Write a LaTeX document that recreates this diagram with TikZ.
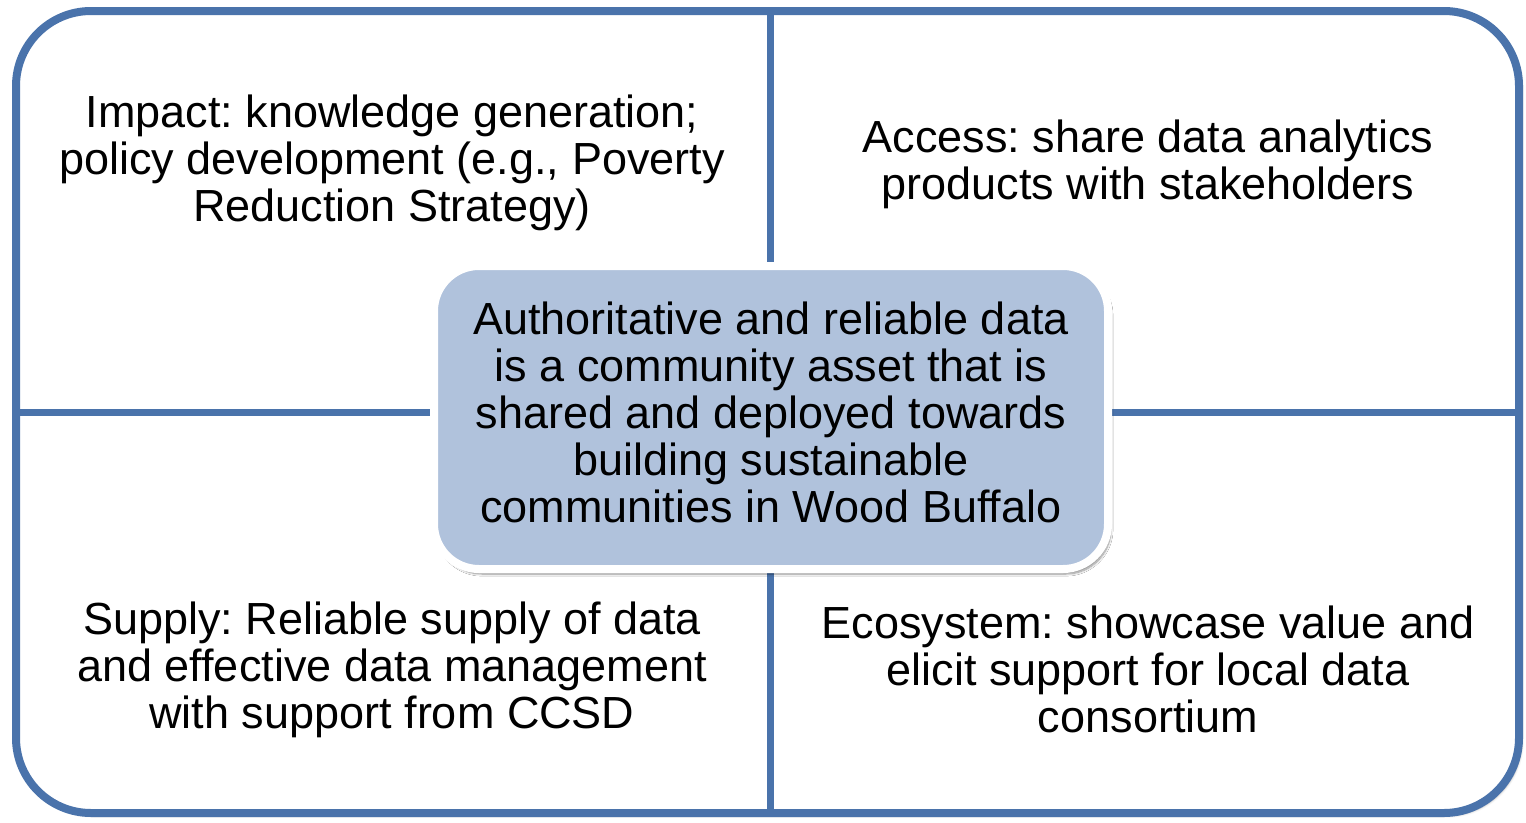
\documentclass[tikz,border=0pt]{standalone}
\usepackage{fontspec}
\setmainfont{Liberation Sans}
\usetikzlibrary{shadows.blur}
\definecolor{frameblue}{HTML}{4A73AB}
\definecolor{centerfill}{HTML}{B0C2DC}
\frenchspacing
\begin{document}
\begin{tikzpicture}[x=1pt,y=-1pt,
  quad/.style={align=center,font=\fontsize{45}{47}\selectfont,inner sep=0pt},
  divider/.style={draw=frameblue,line width=7pt}]
\useasboundingbox (0,0) rectangle (1526,822);
\draw[frameblue,fill=white,line width=8pt,rounded corners=75pt,
  blur shadow={shadow xshift=3pt,shadow yshift=-3pt,shadow opacity=25,shadow blur steps=6}]
  (16,11) rectangle (1519,813);
\coordinate (vt) at (770,11);
\coordinate (vb) at (770,813);
\coordinate (hl) at (16,412);
\coordinate (hr) at (1519,412);
\draw[divider] (vt) -- (vb);
\draw[divider] (hl) -- (hr);
\node[draw=white,line width=8pt,fill=centerfill,rounded corners=45pt,
  minimum width=674pt,minimum height=303pt,
  blur shadow={shadow xshift=3pt,shadow yshift=-5pt,shadow opacity=45,shadow blur steps=8},
  quad] (core) at (771,417.5) {};
\node[quad] (coretext) at (771,412.5) {Authoritative and reliable data\\is a community asset that is\\shared and deployed towards\\building sustainable\\communities in Wood Buffalo};
\node[quad] (impact) at (392,163) {Impact: knowledge generation;\\policy development (e.g., Poverty\\Reduction Strategy)};
\node[quad] (access) at (1148,164) {Access: share data analytics\\products with stakeholders};
\node[quad] (supply) at (392,669.5) {Supply: Reliable supply of data\\and effective data management\\with support from CCSD};
\node[quad] (eco) at (1148,669.5) {Ecosystem: showcase value and\\elicit support for local data\\consortium};
\end{tikzpicture}
\end{document}
